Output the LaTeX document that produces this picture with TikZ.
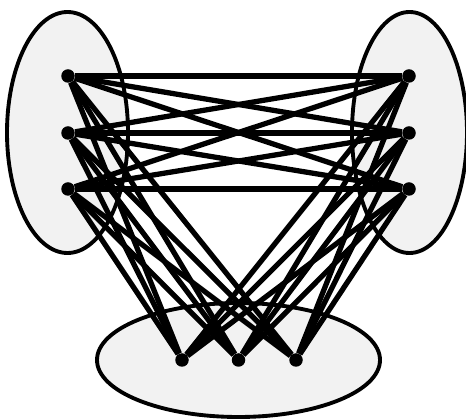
\documentclass[tikz,border=0pt]{standalone}
\usepackage{tikz}
\usetikzlibrary{shapes.geometric}

\begin{document}
\begin{tikzpicture}[
  grp/.style  = {ellipse, draw=black, fill=black!5,
                 line width=2.2pt, inner sep=0pt},
  vtx/.style  = {circle, fill=black, inner sep=0pt,
                 minimum size=0.27cm},
  edge/.style = {line width=3pt, black},
]
\useasboundingbox (0,0) rectangle (9.32,-8.38);

%% ── Part ellipses ────────────────────────────────────────────────────────
\node[grp, minimum width=2.42cm, minimum height=4.82cm] at (1.35, -2.65) (L) {};
\node[grp, minimum width=2.30cm, minimum height=4.82cm] at (8.19, -2.65) (R) {};
\node[grp, minimum width=5.66cm, minimum height=2.28cm] at (4.77, -7.20) (B) {};

%% ── Vertices ─────────────────────────────────────────────────────────────
\node[vtx] at (1.36, -1.52) (l1) {};
\node[vtx] at (1.36, -2.66) (l2) {};
\node[vtx] at (1.36, -3.78) (l3) {};

\node[vtx] at (8.18, -1.52) (r1) {};
\node[vtx] at (8.18, -2.66) (r2) {};
\node[vtx] at (8.18, -3.78) (r3) {};

\node[vtx] at (3.64, -7.20) (b1) {};
\node[vtx] at (4.77, -7.20) (b2) {};
\node[vtx] at (5.92, -7.20) (b3) {};

%% ── Left -- right ────────────────────────────────────────────────────────
\draw[edge] (l1) -- (r1);  \draw[edge] (l1) -- (r2);  \draw[edge] (l1) -- (r3);
\draw[edge] (l2) -- (r1);  \draw[edge] (l2) -- (r2);  \draw[edge] (l2) -- (r3);
\draw[edge] (l3) -- (r1);  \draw[edge] (l3) -- (r2);  \draw[edge] (l3) -- (r3);

%% ── Left -- bottom ───────────────────────────────────────────────────────
\draw[edge] (l1) -- (b1);  \draw[edge] (l1) -- (b2);  \draw[edge] (l1) -- (b3);
\draw[edge] (l2) -- (b1);  \draw[edge] (l2) -- (b2);  \draw[edge] (l2) -- (b3);
\draw[edge] (l3) -- (b1);  \draw[edge] (l3) -- (b2);  \draw[edge] (l3) -- (b3);

%% ── Right -- bottom ──────────────────────────────────────────────────────
\draw[edge] (r1) -- (b1);  \draw[edge] (r1) -- (b2);  \draw[edge] (r1) -- (b3);
\draw[edge] (r2) -- (b1);  \draw[edge] (r2) -- (b2);  \draw[edge] (r2) -- (b3);
\draw[edge] (r3) -- (b1);  \draw[edge] (r3) -- (b2);  \draw[edge] (r3) -- (b3);

\end{tikzpicture}
\end{document}
